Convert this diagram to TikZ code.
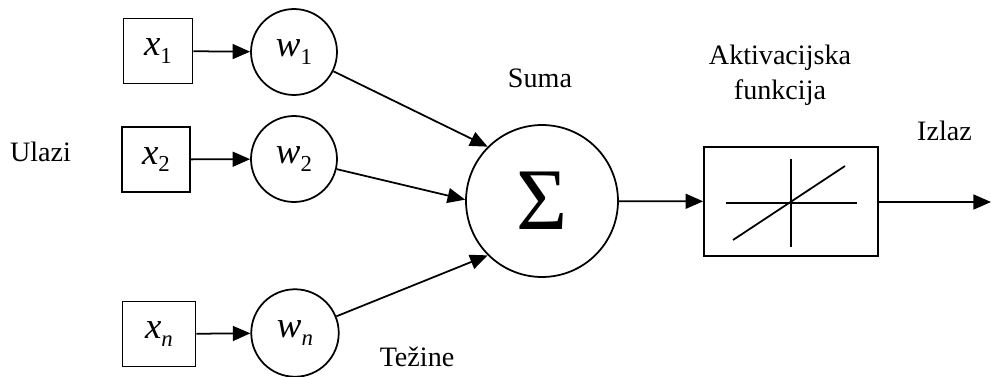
\documentclass[tikz,border=0pt]{standalone}
\usepackage{fontspec}
\setmainfont{Liberation Serif}
\newfontface\itface{Liberation Serif Italic}
\usetikzlibrary{arrows.meta}

\newcommand{\inp}[2]{\fontsize{21}{21}\selectfont{\itface #1}\raisebox{-4.5pt}{\fontsize{13}{13}\selectfont #2}}

\begin{document}
\begin{tikzpicture}[x=0.02cm, y=-0.02cm, line width=1pt,
    >={Triangle[length=10pt,width=8.5pt]},
    lbl/.style={font=\fontsize{16}{20}\selectfont, align=center}]

      \useasboundingbox (0,0) rectangle (991,376);

      \begin{scope}[every node/.style={draw, inner sep=0pt}]
        \node[rectangle, minimum width=1.38cm, minimum height=1.3cm] (x1) at (158,51)    {\inp{x}{1}};
        \node[rectangle, minimum width=1.36cm, minimum height=1.3cm] (x2) at (156,159.5) {\inp{x}{2}};
        \node[rectangle, minimum width=1.46cm, minimum height=1.3cm] (xn) at (159,334)   {\inp{x}{{\itface n}}};
        \node[circle, minimum size=1.72cm] (w1) at (294,52)  {\inp{w}{1}};
        \node[circle, minimum size=1.72cm] (w2) at (294,159) {\inp{w}{2}};
        \node[circle, minimum size=1.75cm] (wn) at (295,333) {\inp{w}{{\itface n}}};
        \node[circle, minimum size=3.04cm, font=\fontsize{50}{50}\selectfont] (sum) at (542,201) {Σ};
        \node[rectangle, minimum width=3.48cm, minimum height=2.18cm] (act) at (791,201.5) {};
      \end{scope}

      \coordinate (out) at (991,202);

      % graph inside the activation box
      \draw (726,203) -- (857,203);
      \draw (791,159) -- (791,247);
      \draw (733,240) -- (845,166);

      \begin{scope}[every edge/.style={draw, ->}]
        \path (x1) edge (w1);
        \path (x2) edge (w2);
        \path (xn) edge (wn);
        \path (w1) edge (sum.135);
        \path (w2) edge (sum.179);
        \path (wn) edge (sum.225);
        \path (sum) edge (act);
        \path (act.east |- out) edge (out);
      \end{scope}

      \node[lbl] (ulazi)  at (40.5,152) {Ulazi};
      \node[lbl] (suma)   at (540,78)   {Suma};
      \node[lbl] (tezine) at (417,357)  {Težine};
      \node[lbl] (aktiv)  at (780,75)   {Aktivacijska\\funkcija};
      \node[lbl] (izlaz)  at (944.5,131) {Izlaz};

    \end{tikzpicture}
\end{document}
